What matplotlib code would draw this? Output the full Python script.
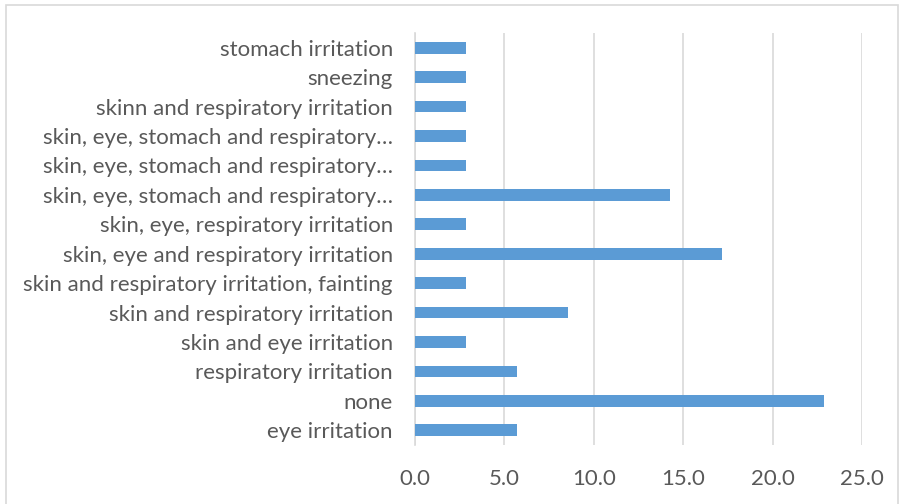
import matplotlib.pyplot as plt
from matplotlib.patches import Rectangle

plt.rcParams['font.family'] = ['Lato', 'DejaVu Sans']

categories = ["eye irritation", "none", "respiratory irritation", "skin and eye irritation",
              "skin and respiratory irritation", "skin and respiratory irritation, fainting",
              "skin, eye and respiratory irritation", "skin, eye, respiratory irritation",
              "skin, eye, stomach and respiratory\u2026", "skin, eye, stomach and respiratory\u2026",
              "skin, eye, stomach and respiratory\u2026", "skinn and respiratory irritation",
              "sneezing", "stomach irritation"]
values = [5.714, 22.857, 5.714, 2.857, 8.571, 2.857, 17.143, 2.857, 14.286, 2.857, 2.857,
          2.857, 2.857, 2.857]
xticks = [0, 5, 10, 15, 20, 25]

fig = plt.figure(figsize=(9.01, 5.04), dpi=100)
ax = fig.add_axes([415/901, 1-445/504, (862-415)/901, (445-33)/504])

pos = list(range(len(categories)))
ax.barh(pos, values, height=0.4, color='#5B9BD5', zorder=3)
ax.set_ylim(-0.5, len(categories)-0.5)
ax.set_xlim(0, 25)
ax.set_yticks(pos)
ax.set_yticklabels(categories)
ax.set_xticks(xticks)
ax.set_xticklabels(["%.1f" % t for t in xticks])
ax.tick_params(axis='both', length=0, labelsize=16, colors='#595959')
ax.tick_params(axis='y', pad=16)
ax.tick_params(axis='x', pad=17)
ax.grid(axis='x', color='#D9D9D9', linewidth=1.2, zorder=0)
for s in ['top', 'right', 'bottom']:
    ax.spines[s].set_visible(False)
ax.spines['left'].set_color('#D9D9D9')
ax.spines['left'].set_linewidth(1.2)

fig.patches.append(Rectangle((6/901, -0.1), (898-6)/901, 1.1-5/504, transform=fig.transFigure,
                             fill=False, edgecolor='#D9D9D9', linewidth=1.2))

fig.savefig('out.png', dpi=100)
